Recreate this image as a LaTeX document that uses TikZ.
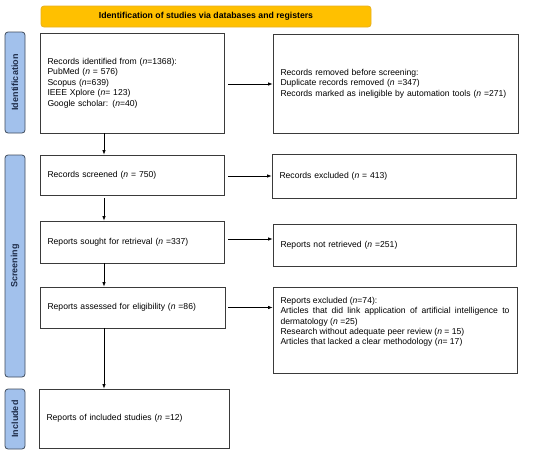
\documentclass[tikz,border=0pt]{standalone}
\usepackage{fontspec}
\setmainfont{Liberation Sans}
\usetikzlibrary{arrows.meta}
\definecolor{boxc}{HTML}{3A3A3A}
\definecolor{sidefill}{HTML}{A2C1EC}
\definecolor{sidec}{HTML}{3F4B5C}
\definecolor{sidetext}{HTML}{1F2D4A}
\definecolor{yel}{HTML}{FFC000}
\definecolor{yelc}{HTML}{E8B020}
\begin{document}
\begin{tikzpicture}[x=1pt,y=-1pt,
  box/.style={draw=boxc, line width=0.8pt, fill=white, inner xsep=7.5pt, inner ysep=0pt,
    align=left, font=\fontsize{8.6}{10.4}\selectfont},
  side/.style={draw=sidec, fill=sidefill, rounded corners=3pt, line width=0.8pt,
    rotate=90, minimum height=20pt, inner sep=0pt, text=sidetext,
    font=\bfseries\fontsize{9}{10}\selectfont},
  arr/.style={draw=black, line width=0.7pt, -{Latex[length=4.5pt,width=3.5pt]}}]
\useasboundingbox (0,0) rectangle (550,456);

% title bar
\node[draw=yelc, fill=yel, rounded corners=3pt, line width=0.8pt, minimum width=330pt,
  minimum height=21pt, inner sep=0pt, font=\bfseries\fontsize{8.7}{10}\selectfont]
  (title) at (206,16.5) {Identification of studies via databases and registers};

% side bars
\node[side, minimum width=101pt] (sid) at (15,82.5) {Identification};
\node[side, minimum width=222pt] (sscr) at (15,266) {Screening};
\node[side, minimum width=60pt] (sinc) at (15,419) {Included};

% left column
\node[box, text width=169pt, minimum height=100pt] (ident) at (132,83)
  {Records identified from (\textit{n}=1368):\\
   PubMed (\textit{n} = 576)\\
   Scopus (\textit{n}=639)\\
   IEEE Xplore (\textit{n}= 123)\\
   Google scholar: (\textit{n}=40)};
\node[box, text width=169pt, minimum height=40pt] (screened) at (132,175)
  {Records screened (\textit{n} = 750)};
\node[box, text width=169pt, minimum height=42pt] (sought) at (132,242)
  {Reports sought for retrieval (\textit{n} =337)};
\node[box, text width=170pt, minimum height=41pt] (assessed) at (132.5,307.5)
  {Reports assessed for eligibility (\textit{n} =86)};
\node[box, text width=175pt, minimum height=59pt] (included) at (134,418.5)
  {Reports of included studies (\textit{n} =12)};

% right column
\node[box, text width=230pt, minimum height=99pt] (removed) at (395.5,83.5)
  {Records removed before screening:\\
   Duplicate records removed (\textit{n} =347)\\
   Records marked as ineligible by automation tools (\textit{n} =271)};
\node[box, text width=229pt, minimum height=44pt] (excl) at (394,176)
  {Records excluded (\textit{n} = 413)};
\node[box, text width=228pt, minimum height=42pt] (notret) at (394.5,245)
  {Reports not retrieved (\textit{n} =251)};
\node[box, align=justify, text width=229pt, minimum height=86pt] (repexcl) at (395,330)
  {\parbox[c][66pt][t]{229pt}{\spaceskip=0pt\xspaceskip=0pt\leftskip=0pt\rightskip=0pt\parfillskip=0pt plus 1fil\baselineskip=10.4pt\hyphenpenalty=10000\exhyphenpenalty=10000\relax
   Reports excluded (\textit{n}=74):\hfill\break
   Articles that did link application of artificial intelligence to \mbox{dermatology} (\textit{n} =25)\hfill\break
   Research without adequate peer review (\textit{n} = 15)\hfill\break
   Articles that lacked a clear methodology (\textit{n}= 17)\par}};

% vertical arrows
\coordinate (ax) at (104,0);
\draw[arr] (ident.south -| ax) -- (screened.north -| ax);
\draw[arr, shorten <=2.5pt] (screened.south -| ax) -- (sought.north -| ax);
\draw[arr] (sought.south -| ax) -- (assessed.north -| ax);
\draw[arr] (assessed.south -| ax) -- (included.north -| ax);

% horizontal arrows
\draw[arr, shorten <=4pt] ([yshift=-1pt]ident.east) -- ([yshift=-1pt]ident.east -| removed.west);
\draw[arr, shorten <=4pt] ([yshift=-1pt]screened.east) -- ([yshift=-1pt]screened.east -| excl.west);
\draw[arr, shorten <=4pt] ([yshift=3pt]sought.east) -- ([yshift=3pt]sought.east -| notret.west);
\draw[arr, shorten <=3pt] (assessed.east) -- (assessed.east -| repexcl.west);
\end{tikzpicture}
\end{document}
